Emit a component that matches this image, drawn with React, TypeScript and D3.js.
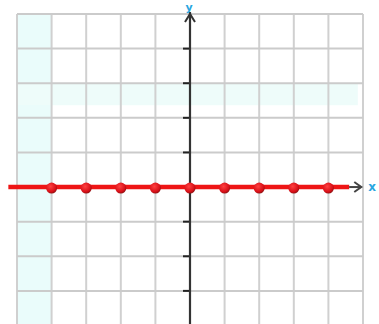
import React from "react";
import * as d3 from "d3";

const xTicks = [-5, -4, -3, -2, -1, 0, 1, 2, 3, 4, 5];
const yTicks = [-4, -3, -2, -1, 0, 1, 2, 3, 4, 5];
const pointX = [-4, -3, -2, -1, 0, 1, 2, 3, 4];
const pointY = [0, 0, 0, 0, 0, 0, 0, 0, 0];
const lineX = [-5.25, 4.6];
const axisLabels = ["y", "x"];

export default function App() {
  const W = 379, H = 324;
  const x = d3.scaleLinear().domain([-5, 5]).range([17, 363]);
  const y = d3.scaleLinear().domain([-4, 5]).range([325.5, 14]);
  const line = d3.line<number>().x((d) => x(d)).y(() => y(0));
  const x0 = x(0), y0 = y(0);
  return (
    <svg width={W} height={H} style={{ position: "absolute", left: 0, top: 0, background: "#fff" }}>
      <defs>
        <radialGradient id="dot" cx="40%" cy="35%" r="70%">
          <stop offset="0%" stopColor="#ff4040" />
          <stop offset="70%" stopColor="#d81018" />
          <stop offset="100%" stopColor="#801010" />
        </radialGradient>
      </defs>
      <rect x={x(-5)} y={y(5)} width={x(-4) - x(-5)} height={H - y(5)} fill="#eafcfb" />
      <rect x={x(-5)} y={y(3)} width={x(4.85) - x(-5)} height={22} fill="#eefcfa" />
      {xTicks.map((t) => (
        <line key={"gx" + t} x1={x(t)} x2={x(t)} y1={y(5)} y2={H} stroke="#d0d0d0" strokeWidth={2} />
      ))}
      {yTicks.map((t) => (
        <line key={"gy" + t} x1={x(-5)} x2={x(5)} y1={y(t)} y2={y(t)} stroke="#cbcbcb" strokeWidth={2} />
      ))}
      {yTicks.filter((t) => t !== 0 && t !== 5).map((t) => (
        <line key={"ty" + t} x1={x0 - 7} x2={x0} y1={y(t)} y2={y(t)} stroke="#222" strokeWidth={2} />
      ))}
      <line x1={x0} x2={x0} y1={12} y2={H} stroke="#333" strokeWidth={2.2} />
      <path d={`M${x0 - 5},${22} L${x0},${14} L${x0 + 5},${22}`} fill="none" stroke="#333" strokeWidth={2} />
      <path d={line(lineX) || ""} stroke="#ee1515" strokeWidth={4.5} fill="none" />
      <path d={`M${x(4.6)},${y0} L${x(4.95)},${y0}`} stroke="#444" strokeWidth={2} />
      <path d={`M${x(4.95) - 7},${y0 - 5} L${x(4.95)},${y0} L${x(4.95) - 7},${y0 + 5}`} fill="none" stroke="#444" strokeWidth={2} />
      {pointX.map((px, i) => (
        <circle key={"p" + i} cx={x(px)} cy={y(pointY[i]) + 1} r={5.5} fill="url(#dot)" />
      ))}
      <text x={x0 - 1} y={11} textAnchor="middle" fill="#2aa6e0" fontFamily="DejaVu Sans" fontWeight="bold" fontSize={11}>{axisLabels[0]}</text>
      <text x={372} y={y0 + 4} textAnchor="middle" fill="#2aa6e0" fontFamily="DejaVu Sans" fontWeight="bold" fontSize={12}>{axisLabels[1]}</text>
    </svg>
  );
}
